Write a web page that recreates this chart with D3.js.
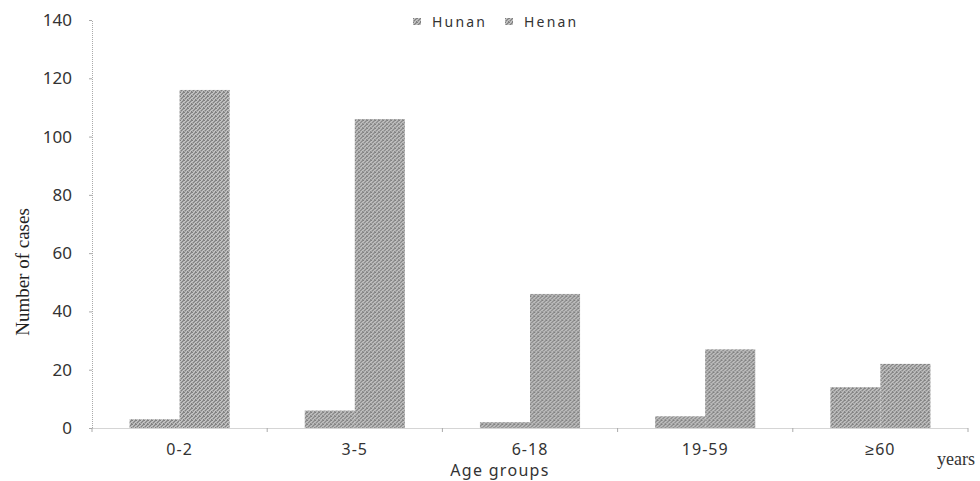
<!DOCTYPE html>
<html><head><meta charset="utf-8">
<script src="https://cdn.jsdelivr.net/npm/d3@7"></script>
<style>body{margin:0;background:#fff}svg{display:block}</style>
</head><body>
<script>
const categories = ["0-2","3-5","6-18","19-59","≥60"];
const seriesNames = ["Hunan","Henan"];
const hunan = [3,6,2,4,14];
const henan = [116,106,46,27,22];
const yTicks = [0,20,40,60,80,100,120,140];

(function(){
const W=980,H=481;
const svg=d3.select("body").append("svg").attr("width",W).attr("height",H);
const defs=svg.append("defs");
// dithered gray texture
const pat=defs.append("pattern").attr("id","tex").attr("width",4).attr("height",4).attr("patternUnits","userSpaceOnUse");
pat.append("rect").attr("width",4).attr("height",4).attr("fill","#ababab");
[[0,0],[2,1],[1,2],[3,3],[3,0]].forEach(([px,py])=>pat.append("rect").attr("x",px).attr("y",py).attr("width",1).attr("height",1).attr("fill","#808080"));
[[1,0],[3,2],[2,3],[0,1]].forEach(([px,py])=>pat.append("rect").attr("x",px).attr("y",py).attr("width",1).attr("height",1).attr("fill","#c8c8c8"));

const mLeft=92,mRight=968,mTop=20,mBottom=428;
const x=d3.scaleBand().domain(categories).range([mLeft,mRight]).paddingInner(0).paddingOuter(0);
const x1=d3.scaleBand().domain(seriesNames).range([0,x.bandwidth()]).paddingInner(0).paddingOuter(0.75);
const y=d3.scaleLinear().domain([0,140]).range([mBottom,mTop]);

const font="'Noto Sans', sans-serif";
// y axis
const ya=svg.append("g").attr("transform",`translate(${mLeft},0)`).call(d3.axisLeft(y).tickValues(yTicks).tickSize(3).tickPadding(17));
ya.select(".domain").attr("stroke","#aaa").attr("stroke-dasharray","1,1");
ya.selectAll(".tick line").attr("stroke","#aaa");
ya.selectAll("text").attr("font-family",font).attr("font-size",17).attr("fill","#333");

// bars
const data=categories.map((c,i)=>({c,vals:[{s:"Hunan",v:hunan[i]},{s:"Henan",v:henan[i]}]}));
const g=svg.append("g").selectAll("g").data(data).join("g").attr("transform",d=>`translate(${x(d.c)},0)`);
g.selectAll("rect").data(d=>d.vals).join("rect")
 .attr("x",d=>x1(d.s)).attr("width",x1.bandwidth())
 .attr("y",d=>y(d.v)).attr("height",d=>y(0)-y(d.v))
 .attr("fill","url(#tex)");

// x axis
const xa=svg.append("g").attr("transform",`translate(0,${mBottom})`).call(d3.axisBottom(x).tickSize(0).tickPadding(16));
xa.select(".domain").attr("stroke","#aaa").attr("stroke-dasharray","1,1");
xa.selectAll("text").attr("font-family",font).attr("font-size",16).attr("letter-spacing",1).attr("fill","#333");
const bounds=categories.map(c=>x(c)).concat([x(categories[categories.length-1])+x.bandwidth()]);
svg.append("g").selectAll("line").data(bounds).join("line")
 .attr("x1",d=>d).attr("x2",d=>d).attr("y1",mBottom).attr("y2",mBottom+4).attr("stroke","#aaa");

// titles
svg.append("text").attr("transform",`translate(29,272) rotate(-90)`).attr("text-anchor","middle")
 .attr("font-family","'Liberation Serif', serif").attr("font-size",19).attr("fill","#222").text("Number of cases");
svg.append("text").attr("x",500).attr("y",476).attr("text-anchor","middle")
 .attr("font-family",font).attr("font-size",16).attr("letter-spacing",1.3).attr("fill","#333").text("Age groups");
svg.append("text").attr("x",937).attr("y",465)
 .attr("font-family","'Liberation Serif', serif").attr("font-size",18).attr("fill","#333").text("years");

// legend
const lg=svg.append("g").selectAll("g").data(seriesNames).join("g").attr("transform",(d,i)=>`translate(${413+i*92},18)`);
lg.append("rect").attr("width",8).attr("height",7).attr("fill","url(#tex)");
lg.append("text").attr("x",19).attr("y",9).attr("font-family",font).attr("font-size",14).attr("letter-spacing",2.2).attr("fill","#333").text(d=>d);
})();
</script>
</body></html>
